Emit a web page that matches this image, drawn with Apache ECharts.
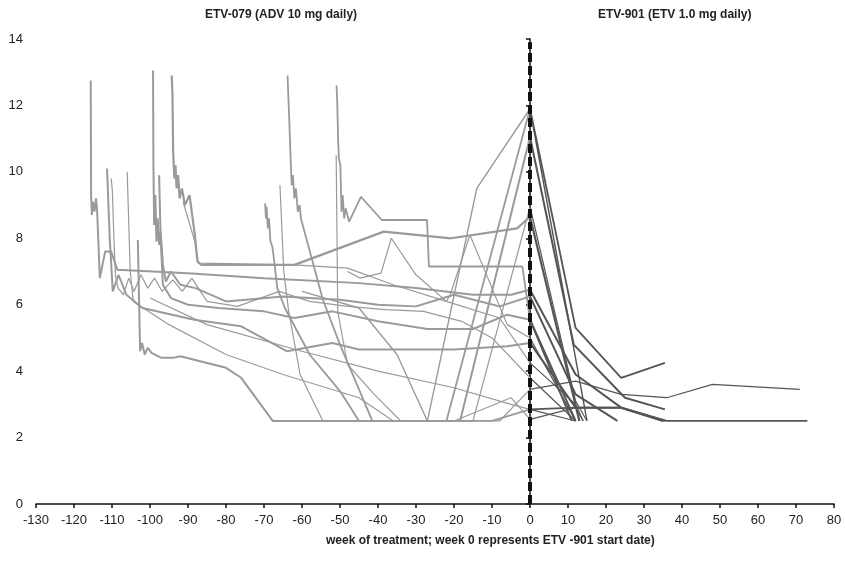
<!DOCTYPE html>
<html>
<head>
<meta charset="utf-8">
<script src="https://cdn.jsdelivr.net/npm/echarts@6/dist/echarts.min.js"></script>
<style>
  html, body { margin: 0; padding: 0; background: #fff; }
  #chart { width: 845px; height: 576px; }
</style>
</head>
<body>
<div id="chart"></div>
<script>
// Viral load per patient: [week, value]; week 0 = start of ETV-901.
// Points before week 0 belong to ETV-079, points from week 0 on to ETV-901.
const p01 = [[-115.6,12.75],[-115.5,9.3],[-115.3,8.7],[-115.0,9.1],[-114.6,8.8],[-114.2,9.2],[-113.9,8.8],[-113.2,6.8],[-111.8,7.6],[-110.2,7.6],[-108.6,7.05],[-90,6.95],[-70,6.8],[-45,6.65],[-30,6.5],[-15,6.3],[-5,6.3],[0,6.45],[12,3.9],[24,2.9],[35.5,2.5]];
const p02 = [[-99.2,13.05],[-99.1,10.2],[-98.9,8.4],[-98.6,9.3],[-98.3,7.9],[-98.0,8.6],[-97.6,7.8],[-97.2,8.2],[-96.6,7.2],[-95.8,6.7],[-94.5,7.0],[-92,6.6],[-88,6.5],[-80,6.1],[-65,6.25],[-50,6.15],[-40,6.0],[-30,5.95],[-20,6.3],[-8,5.95],[0,6.25],[12,3.3],[23,2.5]];
const p03 = [[-94.3,12.9],[-94.1,12.4],[-93.9,10.6],[-93.6,9.8],[-93.3,10.2],[-93.0,9.5],[-92.6,9.9],[-92.2,9.2],[-91.6,9.5],[-90.8,9.0],[-89.6,9.3],[-88.2,8.1],[-87.5,7.3],[-86.5,7.2],[-62,7.2],[-38.5,8.2],[-20.8,8.0],[-3.4,8.3],[0,8.65],[13,2.5]];
const p04 = [[-63.8,12.9],[-63.6,12.3],[-63.3,11.4],[-63.0,10.4],[-62.7,9.6],[-62.4,9.9],[-62.0,9.2],[-61.6,9.5],[-61.1,8.8],[-60.6,9.0],[-60.3,8.6],[-54.5,6.15],[-50,4.8],[-41.5,2.5],[-22,2.5],[0,11.9],[12,5.3],[24,3.8],[35.5,4.25]];
const p05 = [[-50.9,12.6],[-50.7,12.0],[-50.5,11.0],[-50.3,10.4],[-49.9,10.2],[-49.6,8.8],[-49.3,9.3],[-48.9,8.6],[-48.5,8.9],[-47.6,8.5],[-44.5,9.25],[-39.0,8.55],[-27.1,8.55],[-26.6,7.15],[-2,7.15],[0,5.55],[11,2.5]];
const p06 = [[-91.3,9.1],[-88.2,7.9],[-87.3,7.25],[-62,7.2],[-48,7.1],[-36,6.6],[-22,6.1],[-8,5.6],[0,4.25],[12,3.0],[14,2.5]];
const p07 = [[-111.3,10.1],[-110.6,8.0],[-109.8,6.4],[-108.3,6.9],[-106.2,6.3],[-102,5.9],[-88.4,5.55],[-76,5.35],[-64,4.6],[-52,4.85],[-45,4.65],[-36,4.65],[-20,4.65],[-6,4.75],[0,4.85],[12,2.9],[24,2.9],[35,2.5]];
const p08 = [[-110.2,9.8],[-109.9,9.4],[-109.5,8.0],[-109.1,6.9],[-108.4,6.5],[-107,6.3],[-105.6,6.8],[-104.2,6.4],[-102.4,6.9],[-100.6,6.5],[-98.8,6.8],[-96.8,6.4],[-94,6.75],[-91.5,6.4],[-89,6.8],[-85,6.1],[-77,5.95],[-66,6.4],[-58,6.1],[-48,5.95],[-38,5.85],[-28,5.8],[-18,5.5],[-10,5.0],[0,3.8],[12,2.5]];
const p09 = [[-103.2,7.95],[-102.6,4.6],[-102.1,4.85],[-101.4,4.5],[-100.6,4.7],[-99.6,4.55],[-97,4.4],[-94,4.4],[-92,4.45],[-80,4.1],[-76,3.8],[-67.7,2.5],[-18.4,2.5],[0,11.05],[11.5,4.8],[25,3.2],[35.5,2.85]];
const p10 = [[-106,10.0],[-105.2,7.0],[-104.4,6.1],[-95,5.4],[-80,4.5],[-65,3.9],[-45,3.2],[-36,2.5],[-8,2.5],[0,3.45],[12,3.7],[24,3.3],[36,3.2],[48,3.6],[71,3.45]];
const p11 = [[-97.6,9.9],[-97.2,8.0],[-96.6,6.6],[-94.5,6.2],[-90,6.0],[-82,5.9],[-70,5.8],[-62,5.6],[-52,5.8],[-40,5.5],[-27,5.27],[-15,5.27],[-6,5.7],[0,5.55],[12,2.5]];
const p12 = [[-65.8,9.6],[-64.8,7.0],[-63.5,5.8],[-60.5,3.9],[-54.5,2.5],[-15,2.5],[0,8.95],[12,3.1],[15,2.5]];
const p13 = [[-69.7,9.05],[-69.5,8.6],[-69.3,8.95],[-69.0,8.3],[-68.7,8.6],[-68.3,7.9],[-67.8,7.75],[-67.3,7.3],[-66.5,6.5],[-64.5,5.9],[-58,4.5],[-50,3.4],[-45,2.5],[-25,2.5],[-10,2.5],[0,2.85],[12,2.9],[24,2.9],[36,2.5],[73,2.5]];
const p14 = [[-51,10.5],[-50.6,5.8],[-48,4.2],[-41,3.3],[-34,2.5],[-20,2.5],[-5,3.2],[0,2.55],[12,2.9],[14,2.5]];
const p15 = [[-48,7.0],[-44.7,6.8],[-39.2,6.95],[-36.5,8.0],[-30,6.9],[-22,6.1],[-21,6.3],[-15.8,8.1],[-6,5.4],[0,5.0],[12,2.5]];
const p16 = [[-100,6.2],[-85,5.4],[-60,4.6],[-40,4.0],[-20,3.5],[-5,3.0],[0,2.85],[12,2.5]];
const p17 = [[-60,6.4],[-45,5.9],[-35,4.5],[-27,2.5],[-14,9.5],[0,11.9],[15,2.5]];

const patients = [p01, p02, p03, p04, p05, p06, p07, p08, p09, p10, p11, p12, p13, p14, p15, p16, p17];
const lineWidths = [2, 2, 2.2, 1.8, 1.8, 1.2, 2, 1.2, 2, 1.2, 2, 1.2, 1.8, 1.2, 1.2, 1.2, 1.4];

const xTicks = { min: -130, max: 80, interval: 10 };
const yTicks = { min: 0, max: 14, interval: 2 };

const panelTitles = ['ETV-079 (ADV 10 mg daily)', 'ETV-901 (ETV 1.0 mg daily)'];
const xAxisTitle = 'week of treatment; week 0 represents ETV -901 start date)';

const PRE_COLOR = '#9a9a9c';
const POST_COLOR = '#555556';
const FONT = '"Liberation Sans", Arial, sans-serif';

const series = [];
patients.forEach(function (pts, i) {
  const pre = pts.filter(function (p) { return p[0] <= 0; });
  const post = pts.filter(function (p) { return p[0] >= 0; });
  series.push({
    type: 'line', data: pre, symbol: 'none', silent: true,
    lineStyle: { color: PRE_COLOR, width: lineWidths[i] }, z: 2
  });
  series.push({
    type: 'line', data: post, symbol: 'none', silent: true,
    lineStyle: { color: POST_COLOR, width: lineWidths[i] }, z: 3
  });
});

// Week 0 reference line
series.push({
  type: 'line', data: [[0, 0], [0, 13.9]], symbol: 'none', silent: true,
  lineStyle: { color: '#111', width: 4, type: [9, 4] }, z: 5
});

const chart = echarts.init(document.getElementById('chart'), null, { renderer: 'canvas' });
chart.setOption({
  animation: false,
  backgroundColor: '#fff',
  grid: { left: 36, right: 11, top: 39, bottom: 72, containLabel: false },
  xAxis: {
    type: 'value', min: xTicks.min, max: xTicks.max, interval: xTicks.interval,
    axisLine: { lineStyle: { color: '#111', width: 1.5 } },
    axisTick: { show: true, length: 4, lineStyle: { color: '#111', width: 1.5 } },
    axisLabel: { color: '#222', fontFamily: FONT, fontSize: 13, margin: 10 },
    splitLine: { show: false }
  },
  yAxis: {
    type: 'value', min: yTicks.min, max: yTicks.max, interval: yTicks.interval,
    axisLine: { show: true, lineStyle: { color: '#111', width: 1.5 } },
    axisTick: { show: true, length: 4, lineStyle: { color: '#111', width: 1.5 } },
    axisLabel: { color: '#222', fontFamily: FONT, fontSize: 13, margin: 13 },
    splitLine: { show: false }
  },
  graphic: [
    { type: 'text', left: 205, top: 9, style: { text: panelTitles[0], fill: '#222', font: 'bold 12px ' + FONT } },
    { type: 'text', left: 598, top: 9, style: { text: panelTitles[1], fill: '#222', font: 'bold 12px ' + FONT } },
    { type: 'text', left: 326, top: 535, style: { text: xAxisTitle, fill: '#222', font: 'bold 12px ' + FONT } }
  ],
  series: series
});
</script>
</body>
</html>
